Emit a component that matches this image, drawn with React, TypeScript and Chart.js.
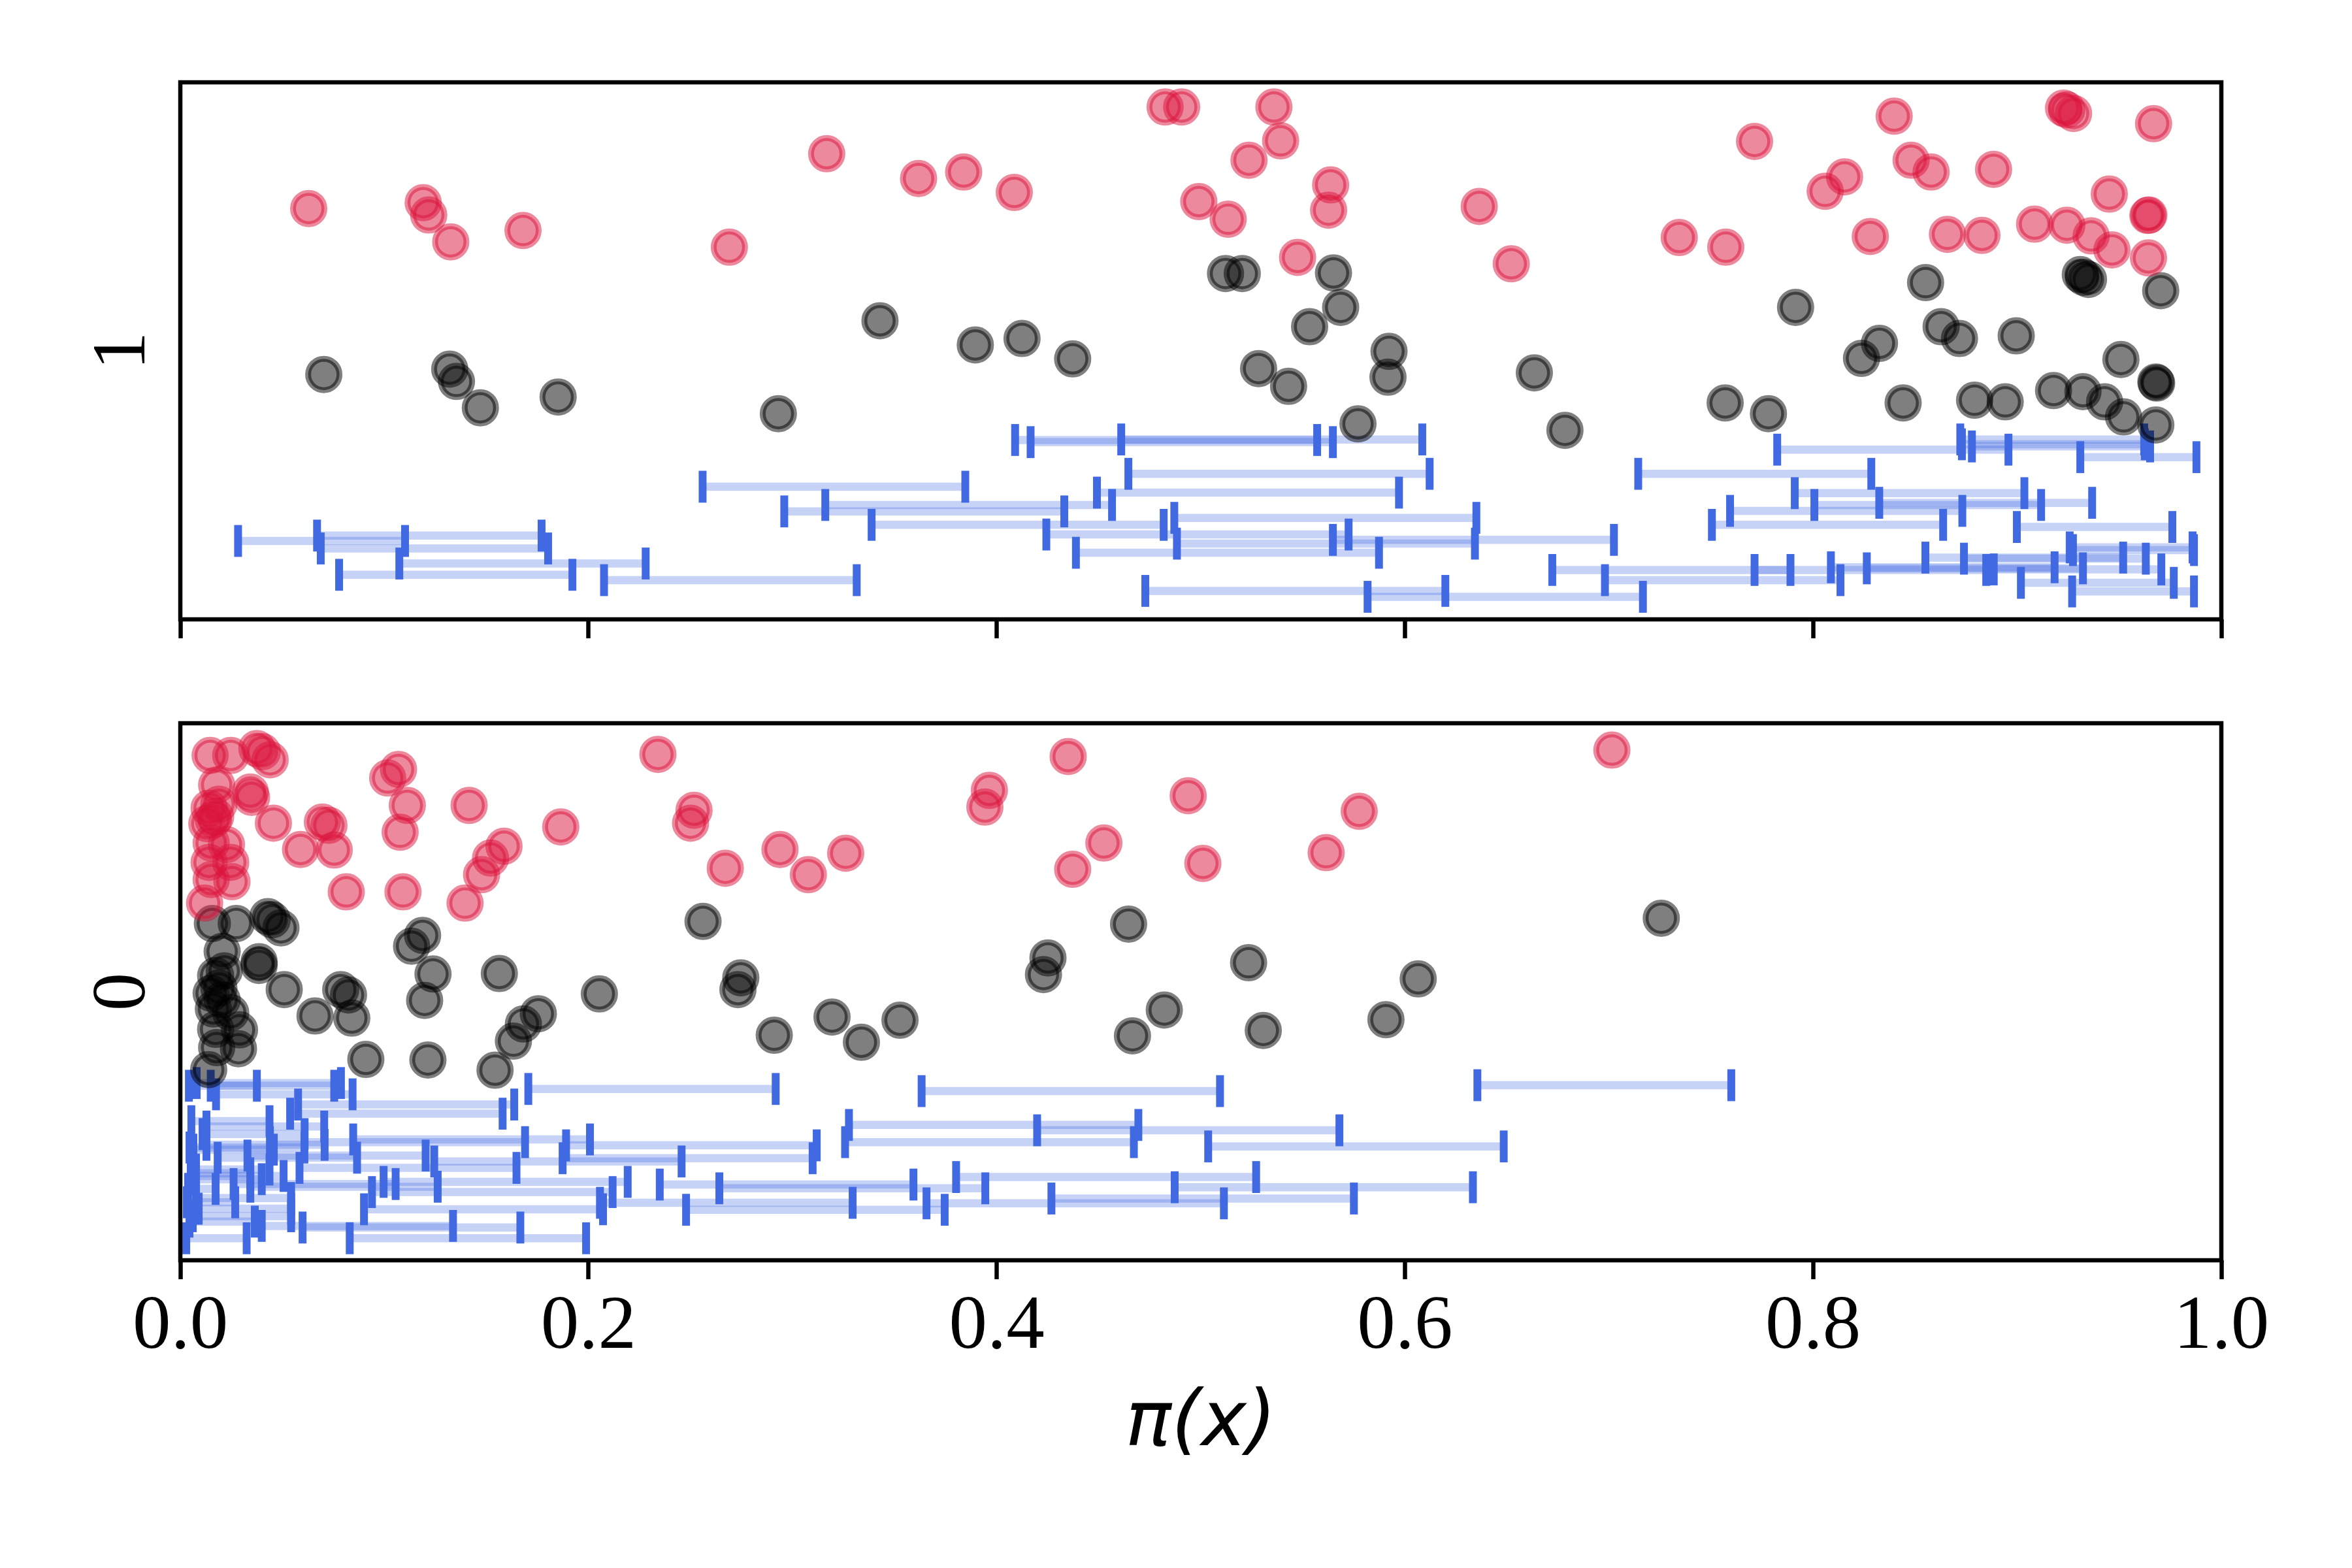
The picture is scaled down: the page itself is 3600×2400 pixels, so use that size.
import React, { useEffect, useRef } from 'react';
import { Chart, registerables } from 'chart.js';

Chart.register(...registerables);

// ---------- text ----------
const xTickValues = [0, 0.2, 0.4, 0.6, 0.8, 1.0];
const xTickLabels = ['0.0', '0.2', '0.4', '0.6', '0.8', '1.0'];
const xAxisLabel = 'π(x)';
const topPanelLabel = '1';
const bottomPanelLabel = '0';

// ---------- top panel (label 1) ----------
const topRedX = [0.0629, 0.1190, 0.1217, 0.1325, 0.1679, 0.2690, 0.3167, 0.3617, 0.3838, 0.4086, 0.4825, 0.4906, 0.4990, 0.5358, 0.5391, 0.5236, 0.5636, 0.5626, 0.5134, 0.5474, 0.6364, 0.6521, 0.7344, 0.7572, 0.7713, 0.8059, 0.8154, 0.8280, 0.8397, 0.8480, 0.8578, 0.8658, 0.8827, 0.8884, 0.9085, 0.9227, 0.9243, 0.9276, 0.9243, 0.9362, 0.9451, 0.9464, 0.9640, 0.9645, 0.9643, 0.9668];
const topRedY = [0.765, 0.776, 0.753, 0.703, 0.724, 0.693, 0.867, 0.821, 0.833, 0.795, 0.954, 0.954, 0.778, 0.954, 0.891, 0.855, 0.809, 0.762, 0.745, 0.674, 0.769, 0.662, 0.711, 0.693, 0.890, 0.797, 0.824, 0.713, 0.937, 0.855, 0.833, 0.717, 0.715, 0.838, 0.736, 0.952, 0.949, 0.942, 0.734, 0.714, 0.792, 0.688, 0.752, 0.753, 0.673, 0.923];

const topBlackX = [0.0703, 0.1320, 0.1353, 0.1470, 0.1851, 0.2930, 0.3428, 0.3895, 0.4124, 0.4372, 0.5121, 0.5203, 0.5650, 0.5685, 0.5533, 0.5283, 0.5430, 0.5922, 0.5917, 0.5770, 0.6634, 0.6784, 0.7569, 0.7781, 0.7914, 0.8237, 0.8325, 0.8441, 0.8551, 0.8627, 0.8717, 0.8791, 0.8941, 0.8995, 0.9178, 0.9322, 0.9428, 0.9521, 0.9508, 0.9679, 0.9683, 0.9679, 0.9703, 0.9309, 0.9325, 0.9349];
const topBlackY = [0.456, 0.466, 0.443, 0.394, 0.414, 0.383, 0.556, 0.511, 0.523, 0.485, 0.644, 0.644, 0.645, 0.581, 0.545, 0.467, 0.434, 0.499, 0.451, 0.364, 0.459, 0.352, 0.403, 0.383, 0.581, 0.486, 0.514, 0.403, 0.627, 0.545, 0.523, 0.408, 0.405, 0.528, 0.426, 0.424, 0.405, 0.377, 0.484, 0.442, 0.440, 0.362, 0.612, 0.642, 0.637, 0.633];

const topIntLo = [0.0283, 0.0670, 0.0688, 0.1073, 0.0778, 0.2076, 0.4090, 0.4166, 0.4610, 0.2559, 0.2959, 0.3160, 0.4491, 0.4645, 0.3387, 0.4243, 0.4388, 0.4870, 0.4883, 0.5647, 0.4728, 0.5817, 0.7143, 0.7504, 0.7824, 0.8721, 0.8729, 0.8778, 0.9309, 0.7910, 0.8006, 0.8324, 0.7593, 0.8998, 0.8550, 0.8739, 0.9257, 0.9273, 0.6722, 0.7713, 0.8087, 0.8263, 0.8885, 0.6980, 0.9018, 0.9269];
const topIntHi = [0.1101, 0.1770, 0.1802, 0.2280, 0.1921, 0.3314, 0.5570, 0.5647, 0.6085, 0.3846, 0.4331, 0.4565, 0.5971, 0.6121, 0.4818, 0.5724, 0.5873, 0.6350, 0.6343, 0.7024, 0.6198, 0.7166, 0.8285, 0.8637, 0.8957, 0.9622, 0.9625, 0.9651, 0.9878, 0.9035, 0.9117, 0.9367, 0.8731, 0.9760, 0.9519, 0.9630, 0.9859, 0.9866, 0.7889, 0.8848, 0.9183, 0.9322, 0.9706, 0.8134, 0.9767, 0.9866];
const topIntY = [0.146, 0.156, 0.132, 0.104, 0.083, 0.073, 0.334, 0.330, 0.335, 0.247, 0.201, 0.213, 0.236, 0.271, 0.176, 0.158, 0.124, 0.189, 0.141, 0.148, 0.053, 0.042, 0.271, 0.176, 0.316, 0.335, 0.326, 0.322, 0.302, 0.235, 0.213, 0.217, 0.202, 0.172, 0.115, 0.113, 0.134, 0.129, 0.092, 0.092, 0.097, 0.095, 0.093, 0.073, 0.068, 0.052];

// ---------- bottom panel (label 0) ----------
const botRedX = [0.0146, 0.0247, 0.0375, 0.0402, 0.0440, 0.0178, 0.0343, 0.0349, 0.0141, 0.0189, 0.0130, 0.0162, 0.0456, 0.0226, 0.0151, 0.0141, 0.0247, 0.0151, 0.0253, 0.0119, 0.0589, 0.0696, 0.0728, 0.0754, 0.0813, 0.1016, 0.1069, 0.1112, 0.1077, 0.1091, 0.1415, 0.1586, 0.1520, 0.1476, 0.1395, 0.1864, 0.2340, 0.2517, 0.2500, 0.2670, 0.2938, 0.3077, 0.3260, 0.3964, 0.3942, 0.4350, 0.4525, 0.4372, 0.4938, 0.5010, 0.5776, 0.5614, 0.7014, 0.0173];
const botRedY = [0.940, 0.940, 0.953, 0.947, 0.932, 0.885, 0.872, 0.862, 0.842, 0.849, 0.813, 0.820, 0.814, 0.774, 0.777, 0.741, 0.741, 0.709, 0.705, 0.665, 0.765, 0.816, 0.810, 0.764, 0.686, 0.898, 0.914, 0.847, 0.797, 0.686, 0.847, 0.771, 0.749, 0.718, 0.665, 0.807, 0.942, 0.838, 0.814, 0.730, 0.765, 0.718, 0.758, 0.875, 0.844, 0.938, 0.777, 0.728, 0.865, 0.739, 0.836, 0.759, 0.950, 0.826];

const botBlackX = [0.0157, 0.0274, 0.0429, 0.0450, 0.0493, 0.0205, 0.0386, 0.0386, 0.0173, 0.0215, 0.0151, 0.0189, 0.0247, 0.0162, 0.0173, 0.0290, 0.0178, 0.0285, 0.0139, 0.0509, 0.0660, 0.0786, 0.0824, 0.0840, 0.0909, 0.1133, 0.1187, 0.1238, 0.1197, 0.1213, 0.1563, 0.1754, 0.1681, 0.1632, 0.1542, 0.2053, 0.2561, 0.2746, 0.2732, 0.2910, 0.3193, 0.3337, 0.3526, 0.4646, 0.4251, 0.4229, 0.4821, 0.4665, 0.5234, 0.5306, 0.6065, 0.5907, 0.7256, 0.0205];
const botBlackY = [0.627, 0.627, 0.640, 0.634, 0.619, 0.575, 0.556, 0.549, 0.530, 0.539, 0.497, 0.507, 0.461, 0.468, 0.430, 0.429, 0.396, 0.394, 0.355, 0.504, 0.455, 0.504, 0.494, 0.451, 0.374, 0.585, 0.605, 0.533, 0.484, 0.373, 0.534, 0.459, 0.440, 0.408, 0.354, 0.496, 0.631, 0.526, 0.504, 0.419, 0.453, 0.406, 0.447, 0.626, 0.563, 0.532, 0.466, 0.418, 0.554, 0.428, 0.524, 0.448, 0.637, 0.485];

const botIntLo = [0.1705, 0.3632, 0.6355, 0.1890, 0.1873, 0.2349, 0.2641, 0.2056, 0.2478, 0.3276, 0.3257, 0.3801, 0.4198, 0.4268, 0.4872, 0.5036, 0.3656, 0.0042, 0.0080, 0.0175, 0.0149, 0.0577, 0.0538, 0.0128, 0.0054, 0.0439, 0.0847, 0.0128, 0.0045, 0.0064, 0.0183, 0.0329, 0.1244, 0.0584, 0.0996, 0.0261, 0.0343, 0.0070, 0.0051, 0.0939, 0.0077, 0.0900, 0.0058, 0.0061, 0.0399, 0.0599, 0.0029, 0.0830, 0.0032, 0.0045, 0.0090, 0.0077, 0.0038, 0.0109];
const botIntHi = [0.2917, 0.5094, 0.7599, 0.3118, 0.3098, 0.3592, 0.3944, 0.3294, 0.3745, 0.4694, 0.4672, 0.5271, 0.5679, 0.5750, 0.6333, 0.6484, 0.5113, 0.0754, 0.0787, 0.0844, 0.0375, 0.1636, 0.1579, 0.0705, 0.0437, 0.1689, 0.2007, 0.0707, 0.0608, 0.0458, 0.0866, 0.1202, 0.2456, 0.1647, 0.2192, 0.1055, 0.1261, 0.0399, 0.0506, 0.2118, 0.0543, 0.2071, 0.0343, 0.0543, 0.1336, 0.1666, 0.0325, 0.1988, 0.0269, 0.0365, 0.0543, 0.0437, 0.0173, 0.0609];
const botIntY = [0.319, 0.315, 0.326, 0.214, 0.190, 0.141, 0.134, 0.107, 0.094, 0.252, 0.220, 0.155, 0.242, 0.115, 0.136, 0.212, 0.106, 0.325, 0.330, 0.309, 0.325, 0.290, 0.273, 0.249, 0.259, 0.220, 0.225, 0.215, 0.210, 0.206, 0.191, 0.195, 0.184, 0.172, 0.146, 0.142, 0.137, 0.151, 0.157, 0.127, 0.116, 0.095, 0.162, 0.082, 0.064, 0.061, 0.041, 0.041, 0.108, 0.072, 0.096, 0.169, 0.133, 0.235];

// ---------- styles ----------
const RED = 'rgba(220,20,60,0.5)';
const BLACK = 'rgba(0,0,0,0.5)';
const BLUE = '#4169e1';
const BLUE_LIGHT = 'rgba(65,105,225,0.3)';
const SERIF = "'Liberation Serif', 'Times New Roman', serif";
const SANS = "'DejaVu Sans', sans-serif";
const FONT_SIZE = 117;

const framePlugin = {
  id: 'frame',
  afterDraw(chart: any) {
    const { ctx, chartArea: a } = chart;
    ctx.save();
    ctx.strokeStyle = '#000';
    ctx.lineWidth = 6.5;
    ctx.strokeRect(a.left, a.top, a.right - a.left, a.bottom - a.top);
    ctx.restore();
  },
};

function pointSet(xs: number[], ys: number[], color: string, order: number) {
  return {
    data: xs.map((x, i) => ({ x, y: ys[i] })),
    pointRadius: 24,
    pointBorderWidth: 9,
    pointBackgroundColor: color,
    pointBorderColor: color,
    pointHoverRadius: 24,
    showLine: false,
    order,
    clip: false as any,
  };
}

function intervalSets(lo: number[], hi: number[], ys: number[]) {
  return lo.map((l, i) => ({
    data: [
      { x: l, y: ys[i] },
      { x: hi[i], y: ys[i] },
    ],
    showLine: true,
    borderColor: BLUE_LIGHT,
    borderWidth: 12.5,
    pointStyle: 'line',
    pointRotation: 90,
    pointRadius: 24.4,
    pointHoverRadius: 24.4,
    pointBorderWidth: 12,
    pointBorderColor: BLUE,
    pointBackgroundColor: BLUE,
    order: 2,
    clip: false as any,
  }));
}

type PanelProps = {
  top: number;
  height: number;
  padTop: number;
  xAxisHeight: number;
  showXLabels: boolean;
  yLabel: string;
  redX: number[];
  redY: number[];
  blackX: number[];
  blackY: number[];
  lo: number[];
  hi: number[];
  iy: number[];
};

function Panel(p: PanelProps) {
  const ref = useRef<HTMLCanvasElement>(null);
  useEffect(() => {
    if (!ref.current) return;
    const datasets: any[] = [
      pointSet(p.redX, p.redY, RED, 0),
      pointSet(p.blackX, p.blackY, BLACK, 1),
      ...intervalSets(p.lo, p.hi, p.iy),
    ];
    const chart = new Chart(ref.current, {
      type: 'scatter',
      data: { datasets },
      options: {
        animation: false,
        responsive: false,
        devicePixelRatio: 1,
        events: [],
        layout: { padding: { left: 0, top: p.padTop, right: 200, bottom: 0 } },
        plugins: { legend: { display: false }, tooltip: { enabled: false } },
        scales: {
          x: {
            type: 'linear',
            position: 'bottom',
            min: 0,
            max: 1,
            afterBuildTicks: (s: any) => {
              s.ticks = xTickValues.map((v) => ({ value: v }));
            },
            ticks: {
              autoSkip: false,
              maxRotation: 0,
              padding: 4,
              color: p.showXLabels ? '#000' : 'rgba(0,0,0,0)',
              font: { family: SERIF, size: FONT_SIZE },
              callback: (_v: any, i: number) => xTickLabels[i],
            },
            grid: {
              display: true,
              drawOnChartArea: false,
              drawTicks: true,
              tickLength: 29,
              tickWidth: 6.5,
              tickColor: '#000',
              color: '#000',
            },
            border: { display: false },
            title: {
              display: p.showXLabels,
              text: xAxisLabel,
              color: '#000',
              font: { family: SANS, size: FONT_SIZE, style: 'italic' },
              padding: { top: 0, bottom: 148 },
            },
            afterFit: (s: any) => {
              s.height = p.xAxisHeight;
            },
          },
          y: {
            type: 'linear',
            position: 'left',
            min: 0,
            max: 1,
            ticks: { display: false },
            grid: { display: false },
            border: { display: false },
            title: {
              display: true,
              text: p.yLabel,
              color: '#000',
              font: { family: SERIF, size: FONT_SIZE },
              padding: { top: 120, bottom: 0 },
            },
            afterFit: (s: any) => {
              s.width = 276;
            },
          },
        },
      } as any,
      plugins: [framePlugin],
    });
    return () => chart.destroy();
  }, []);
  return (
    <canvas
      ref={ref}
      width={3600}
      height={p.height}
      style={{ position: 'absolute', left: 0, top: p.top, width: 3600, height: p.height }}
    />
  );
}

export default function App() {
  return (
    <div style={{ position: 'absolute', left: 0, top: 0, width: 3600, height: 2400, background: '#fff' }}>
      <Panel
        top={0}
        height={1000}
        padTop={126}
        xAxisHeight={52}
        showXLabels={false}
        yLabel={topPanelLabel}
        redX={topRedX}
        redY={topRedY}
        blackX={topBlackX}
        blackY={topBlackY}
        lo={topIntLo}
        hi={topIntHi}
        iy={topIntY}
      />
      <Panel
        top={1000}
        height={1400}
        padTop={107}
        xAxisHeight={471}
        showXLabels={true}
        yLabel={bottomPanelLabel}
        redX={botRedX}
        redY={botRedY}
        blackX={botBlackX}
        blackY={botBlackY}
        lo={botIntLo}
        hi={botIntHi}
        iy={botIntY}
      />
    </div>
  );
}
